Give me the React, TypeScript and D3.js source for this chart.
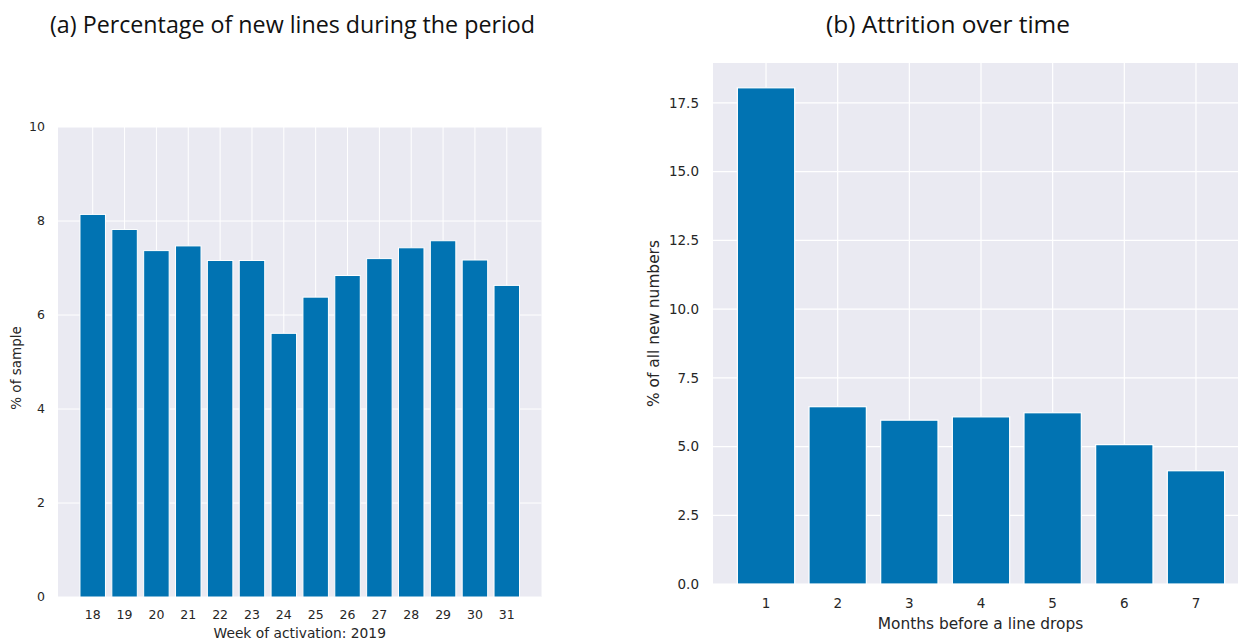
import React from "react";
import * as d3 from "d3";

const weeks = [18, 19, 20, 21, 22, 23, 24, 25, 26, 27, 28, 29, 30, 31];
const pctSample = [8.14, 7.82, 7.37, 7.47, 7.16, 7.16, 5.61, 6.38, 6.84, 7.2, 7.43, 7.58, 7.17, 6.63];
const leftYTicks = [0, 2, 4, 6, 8, 10];

const months = [1, 2, 3, 4, 5, 6, 7];
const attrition = [18.05, 6.45, 5.96, 6.08, 6.23, 5.07, 4.12];
const rightYTicks = [0, 2.5, 5, 7.5, 10, 12.5, 15, 17.5];

const BG = "#eaeaf2";
const BAR = "#0173b2";
const TXT = "#262626";

function padDomain(lo: number, hi: number) {
  const p = (hi - lo) * 0.05;
  return [lo - p, hi + p];
}

export default function App() {
  // Left panel
  const lx = d3.scaleLinear().domain(padDomain(weeks[0] - 0.4, weeks[weeks.length - 1] + 0.4)).range([58, 541.5]);
  const ly = d3.scaleLinear().domain([0, 10]).range([597, 127]);
  const lw = lx(0.8) - lx(0);

  // Right panel
  const rx = d3.scaleLinear().domain(padDomain(months[0] - 0.4, months[months.length - 1] + 0.4)).range([713, 1249]);
  const ymaxR = (d3.max(attrition) as number) * 1.05;
  const ry = d3.scaleLinear().domain([0, ymaxR]).range([584, 63]);
  const rw = rx(0.8) - rx(0);

  const font = "'DejaVu Sans', sans-serif";

  return (
    <div style={{ position: "absolute", left: 0, top: 0 }}>
      <svg width={1238} height={642} style={{ display: "block" }}>
        <rect x={0} y={0} width={1238} height={642} fill="#ffffff" />
        {/* Titles */}
        <text x={50} y={33} fontFamily="'Open Sans', sans-serif" fontSize={23} fill="#111" textLength={485} lengthAdjust="spacingAndGlyphs">
          (a) Percentage of new lines during the period
        </text>
        <text x={826} y={33} fontFamily="'Open Sans', sans-serif" fontSize={23} fill="#111" textLength={244} lengthAdjust="spacingAndGlyphs">
          (b) Attrition over time
        </text>

        {/* Left panel */}
        <rect x={lx.range()[0]} y={127} width={lx.range()[1] - lx.range()[0]} height={470} fill={BG} />
        {leftYTicks.map((t) => (
          <line key={"lgy" + t} x1={lx.range()[0]} x2={lx.range()[1]} y1={ly(t)} y2={ly(t)} stroke="#fff" strokeWidth={1} />
        ))}
        {weeks.map((w) => (
          <line key={"lgx" + w} x1={lx(w)} x2={lx(w)} y1={127} y2={597} stroke="#fff" strokeWidth={1} />
        ))}
        {weeks.map((w, i) => (
          <rect key={"lb" + w} x={lx(w) - lw / 2} y={ly(pctSample[i])} width={lw} height={ly(0) - ly(pctSample[i])} fill={BAR} stroke="#fff" strokeWidth={1} />
        ))}
        {leftYTicks.map((t) => (
          <text key={"lyt" + t} x={45} y={ly(t)} dy="0.35em" textAnchor="end" fontFamily={font} fontSize={12.5} fill={TXT}>
            {t}
          </text>
        ))}
        {weeks.map((w) => (
          <text key={"lxt" + w} x={lx(w)} y={619} textAnchor="middle" fontFamily={font} fontSize={12.5} fill={TXT}>
            {w}
          </text>
        ))}
        <text x={(lx.range()[0] + lx.range()[1]) / 2} y={638} textAnchor="middle" fontFamily={font} fontSize={13.8} fill={TXT}>
          Week of activation: 2019
        </text>
        <text transform={`translate(21,${(127 + 597) / 2 + 6}) rotate(-90)`} textAnchor="middle" fontFamily={font} fontSize={13.5} fill={TXT}>
          % of sample
        </text>

        {/* Right panel */}
        <rect x={rx.range()[0]} y={63} width={rx.range()[1] - rx.range()[0]} height={584 - 63} fill={BG} />
        {rightYTicks.map((t) => (
          <line key={"rgy" + t} x1={rx.range()[0]} x2={rx.range()[1]} y1={ry(t)} y2={ry(t)} stroke="#fff" strokeWidth={1.2} />
        ))}
        {months.map((m) => (
          <line key={"rgx" + m} x1={rx(m)} x2={rx(m)} y1={63} y2={584} stroke="#fff" strokeWidth={1.2} />
        ))}
        {months.map((m, i) => (
          <rect key={"rb" + m} x={rx(m) - rw / 2} y={ry(attrition[i])} width={rw} height={ry(0) - ry(attrition[i])} fill={BAR} stroke="#fff" strokeWidth={1.2} />
        ))}
        {rightYTicks.map((t) => (
          <text key={"ryt" + t} x={699} y={ry(t)} dy="0.35em" textAnchor="end" fontFamily={font} fontSize={13.5} fill={TXT}>
            {d3.format(".1f")(t)}
          </text>
        ))}
        {months.map((m) => (
          <text key={"rxt" + m} x={rx(m)} y={608} textAnchor="middle" fontFamily={font} fontSize={13.5} fill={TXT}>
            {m}
          </text>
        ))}
        <text x={980.5} y={629} textAnchor="middle" fontFamily={font} fontSize={15.4} fill={TXT}>
          Months before a line drops
        </text>
        <text transform={`translate(659,${(240 + 407) / 2}) rotate(-90)`} textAnchor="middle" fontFamily={font} fontSize={15.4} fill={TXT}>
          % of all new numbers
        </text>
      </svg>
    </div>
  );
}
